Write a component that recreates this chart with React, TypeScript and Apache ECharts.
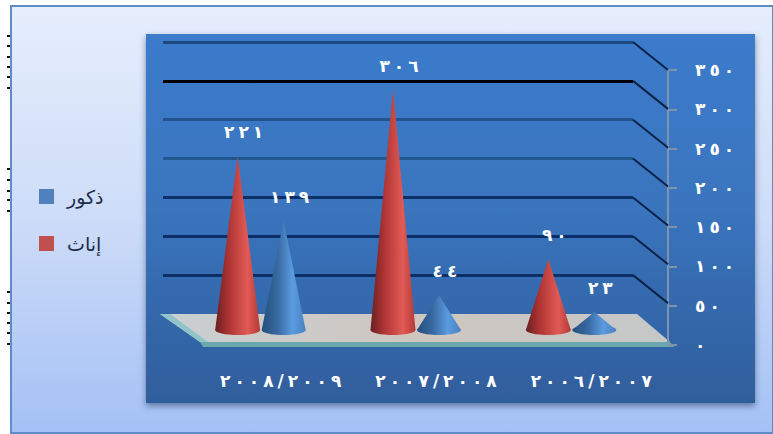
import React, { useEffect, useRef } from "react";
import * as echarts from "echarts";

const categories = ["٢٠٠٨/٢٠٠٩", "٢٠٠٧/٢٠٠٨", "٢٠٠٦/٢٠٠٧"];
const femaleName = "إناث";
const maleName = "ذكور";
const femaleValues = [221, 306, 90];
const maleValues = [139, 44, 23];
const axisMax = 350;
const axisStep = 50;
const wallLineColors = ["rgba(0,0,0,0)", "#0b2f66", "#0a2f68", "#0a3068", "#23578f", "#23538d", "#000000", "#1f4a80"];
const scanMarks = [35, 45, 56, 66, 76, 87, 168, 179, 190, 199, 210, 291, 302, 312, 322, 332, 343];

const FONT = "'DejaVu Sans', sans-serif";
const toArabic = (n: number | string) =>
  String(n).replace(/[0-9]/g, (d) => "٠١٢٣٤٥٦٧٨٩"[Number(d)]);

const hGrad = (stops: [number, string][]) =>
  new echarts.graphic.LinearGradient(0, 0, 1, 0, stops.map(([offset, color]) => ({ offset, color })));
const vGrad = (stops: [number, string][]) =>
  new echarts.graphic.LinearGradient(0, 0, 0, 1, stops.map(([offset, color]) => ({ offset, color })));

const redFill: [number, string][] = [[0, "#6a1f22"], [0.3, "#ad3433"], [0.72, "#e25a55"], [1, "#b23a36"]];
const blueFill: [number, string][] = [[0, "#25507f"], [0.35, "#37689f"], [0.7, "#5a9be0"], [1, "#4a82c0"]];

const coneSeries = (name: string, values: number[], dx: number, width: number, fill: [number, string][], color: string) => ({
  type: "custom",
  name,
  xAxisIndex: 1,
  yAxisIndex: 1,
  z: 4,
  clip: false,
  itemStyle: { color },
  data: values.map((v, i) => [i, v]),
  encode: { x: 0, y: 1 },
  renderItem: (_: any, api: any) => {
    const v = api.value(1);
    const [cx, baseY] = api.coord([api.value(0), 0]);
    const [, tipY] = api.coord([api.value(0), v]);
    const x = cx + dx;
    return {
      type: "group",
      children: [
        {
          type: "polygon",
          shape: { points: [[x - width / 2, baseY], [x, tipY], [x + width / 2, baseY]] },
          style: { fill: hGrad(fill) },
        },
        {
          type: "ellipse",
          shape: { cx: x, cy: baseY, rx: width / 2, ry: 5 },
          style: { fill: hGrad(fill) },
        },
        {
          type: "text",
          style: {
            x: x + 6,
            y: tipY - 24,
            text: toArabic(v),
            fill: "#ffffff",
            font: `bold 17px ${FONT}`,
            align: "center",
            verticalAlign: "middle",
          },
        },
      ],
    };
  },
});

export default function App() {
  const ref = useRef<HTMLDivElement>(null);
  useEffect(() => {
    const chart = echarts.init(ref.current!, undefined, { renderer: "svg" });
    const ticks: number[] = [];
    for (let t = axisStep; t <= axisMax; t += axisStep) ticks.push(t);
    chart.setOption({
      animation: false,
      backgroundColor: "#ffffff",
      textStyle: { fontFamily: FONT },
      legend: {
        orient: "vertical",
        left: 39,
        top: 187,
        padding: 0,
        icon: "rect",
        itemWidth: 15,
        itemHeight: 15,
        itemGap: 28,
        data: [maleName, femaleName],
        textStyle: { color: "#1c2b4a", fontSize: 19, lineHeight: 15, fontFamily: FONT, padding: [0, 0, 0, 8] },
      },
      grid: [
        { left: 163, right: 140, top: 42, bottom: 120 },
        { left: 183, right: 124, top: 55, bottom: 104 },
        { left: 600, right: 105, top: 70, bottom: 89 },
      ],
      xAxis: [
        { type: "value", gridIndex: 0, min: 0, max: 1, show: false },
        {
          type: "category",
          gridIndex: 1,
          data: categories,
          axisLine: { show: false },
          axisTick: { show: false },
          axisLabel: {
            color: "#ffffff",
            fontWeight: "bold",
            fontSize: 17,
            margin: 42,
            fontFamily: FONT,
            padding: [0, 0, 0, 40],
          },
        },
        { type: "value", gridIndex: 2, min: 0, max: 1, show: false },
      ],
      yAxis: [
        {
          type: "value",
          gridIndex: 0,
          min: 0,
          max: axisMax,
          interval: axisStep,
          axisLine: { show: false },
          axisTick: { show: false },
          axisLabel: { show: false },
          splitLine: { show: true, lineStyle: { color: wallLineColors, width: 3 } },
        },
        { type: "value", gridIndex: 1, min: 0, max: axisMax, interval: axisStep, show: false },
        {
          type: "value",
          gridIndex: 2,
          position: "right",
          min: 0,
          max: axisMax,
          interval: axisStep,
          axisLine: { show: true, onZero: false, lineStyle: { color: "#7f93ad", width: 2 } },
          axisTick: { show: true, length: 9, lineStyle: { color: "#7f93ad", width: 2 } },
          splitLine: { show: false },
          axisLabel: {
            color: "#ffffff",
            fontWeight: "bold",
            fontSize: 17,
            margin: 27,
            fontFamily: FONT,
            formatter: (v: number) => toArabic(v),
          },
        },
      ],
      series: [
        {
          type: "custom",
          xAxisIndex: 0,
          yAxisIndex: 0,
          z: 1,
          silent: true,
          clip: false,
          data: ticks.map((t) => [1, t]),
          encode: { x: 0, y: 1 },
          renderItem: (_: any, api: any) => {
            const [x, y] = api.coord([1, api.value(1)]);
            return {
              type: "line",
              shape: { x1: x, y1: y, x2: x + 35, y2: y + 28 },
              style: { stroke: "#0a2247", lineWidth: 2 },
            };
          },
        },
        coneSeries(maleName, maleValues, 23, 44, blueFill, "#4f81bd"),
        coneSeries(femaleName, femaleValues, -23, 45, redFill, "#c0504d"),
      ],
      graphic: [
        {
          type: "group",
          silent: true,
          z: -10,
          children: [
            ...scanMarks.map((y) => ({
              type: "rect",
              shape: { x: 7, y, width: 3, height: 2 },
              style: { fill: "#111111" },
            })),
            {
              type: "rect",
              shape: { x: 11, y: 6, width: 762, height: 427 },
              style: {
                fill: vGrad([[0, "#e6eefc"], [0.5, "#cddcf8"], [1, "#a4c1f5"]]),
                stroke: "#5f8cc4",
                lineWidth: 2,
              },
            },
            {
              type: "rect",
              shape: { x: 146, y: 34, width: 609, height: 369 },
              style: {
                fill: vGrad([[0, "#3b7bcb"], [0.45, "#3a75bf"], [1, "#2f5e9c"]]),
                shadowBlur: 6,
                shadowColor: "rgba(30,50,90,0.55)",
                shadowOffsetY: 3,
              },
            },
          ],
        },
        {
          type: "group",
          silent: true,
          z: 2,
          children: [
            {
              type: "polygon",
              shape: { points: [[160, 314], [637, 314], [670, 342], [200, 342]] },
              style: { fill: hGrad([[0, "#c9cfd2"], [0.5, "#cfc6c0"], [1, "#c4c8c8"]]) },
            },
            {
              type: "polygon",
              shape: { points: [[200, 342], [670, 342], [674, 347], [203, 347]] },
              style: { fill: "#6aa8ae" },
            },
            {
              type: "polygon",
              shape: { points: [[160, 314], [170, 314], [208, 342], [200, 342]] },
              style: { fill: "#8fc5c8" },
            },
          ],
        },
      ],
    });
    const spaceDigits = () => {
      ref.current?.querySelectorAll("text").forEach((el) => {
        const t = (el.textContent || "").trim();
        if (/^[٠-٩/]+$/.test(t)) {
          el.setAttribute("dx", Array.from(t).map((_, i) => (i === 0 ? "0" : "4")).join(" "));
        }
      });
    };
    chart.getZr().flush();
    spaceDigits();
    chart.on("finished", spaceDigits);
    return () => chart.dispose();
  }, []);
  return <div ref={ref} style={{ position: "fixed", left: 0, top: 0, width: 773, height: 434 }} />;
}
